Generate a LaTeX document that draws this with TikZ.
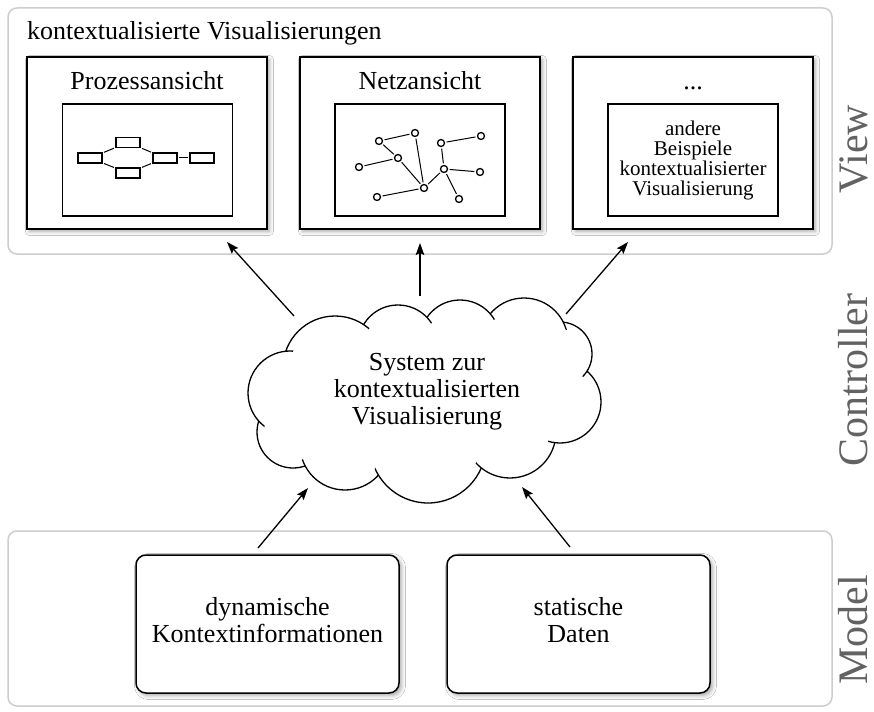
\documentclass[tikz,border=0pt]{standalone}
\usepackage{fontspec}
\setmainfont{Liberation Serif}
\usetikzlibrary{arrows.meta,shadows.blur}
\definecolor{panelgray}{HTML}{CDCDCD}
\definecolor{labelgray}{HTML}{626262}
\begin{document}
\begin{tikzpicture}[x=1pt,y=1pt,
  panel/.style={draw=panelgray, line width=1.5pt, rounded corners=9pt, fill=white, inner sep=0pt, outer sep=0pt, anchor=north west},
  viewbox/.style={draw=black, line width=1.5pt, fill=white, inner sep=0pt, outer sep=0pt, anchor=north west, minimum width=240pt, minimum height=172pt,
    blur shadow={shadow xshift=2.5pt, shadow yshift=-2.5pt, shadow opacity=35, shadow blur radius=4pt}},
  innerbox/.style={draw=black, line width=1.3pt, fill=white, inner sep=0pt, outer sep=0pt, minimum width=170pt, minimum height=112pt},
  modelbox/.style={draw=black, line width=1.5pt, fill=white, rounded corners=10pt, inner sep=0pt, outer sep=0pt, anchor=north west, minimum width=263pt, minimum height=138pt,
    blur shadow={shadow xshift=2.5pt, shadow yshift=-2.5pt, shadow opacity=35, shadow blur radius=4pt}},
  titletext/.style={font=\fontsize{26}{26}\selectfont, inner sep=0pt, anchor=base},
  bodytext/.style={font=\fontsize{26}{27}\selectfont, align=center, inner sep=0pt},
  smalltext/.style={font=\fontsize{21}{20}\selectfont, align=center, inner sep=0pt},
  sidelabel/.style={font=\fontsize{42}{42}\selectfont, text=labelgray, rotate=90, anchor=base, inner sep=0pt},
  procrect/.style={draw=black, line width=1.2pt, fill=white, inner sep=0pt, minimum width=24pt, minimum height=10pt},
  netnode/.style={circle, draw=black, line width=1.3pt, fill=white, inner sep=0pt, minimum size=7pt},
  link/.style={line width=1pt, shorten <=1.5pt, shorten >=1.5pt},
  flow/.style={line width=1.3pt, -{Stealth[length=12pt,width=8.5pt,inset=2pt]}},
  cloudline/.style={line width=1.3pt}
]
\useasboundingbox (0,0) rectangle (874,-711);

% panels
\node[panel, minimum width=824pt, minimum height=246pt] (viewpanel) at (8,-8) {};
\node[panel, minimum width=824pt, minimum height=175pt] (modelpanel) at (8,-531) {};
\node[font=\fontsize{26}{26}\selectfont, inner sep=0pt, anchor=base west] (heading) at (27,-40) {kontextualisierte Visualisierungen};

% side labels
\node[sidelabel] (lview) at (867,-149) {View};
\node[sidelabel] (lctrl) at (867,-380) {Controller};
\node[sidelabel] (lmodel) at (867,-630) {Model};

% view boxes
\node[viewbox] (vb1) at (27,-57) {};
\node[viewbox] (vb2) at (300,-57) {};
\node[viewbox] (vb3) at (573,-57) {};
\node[titletext] (t1) at (147,-90) {Prozessansicht};
\node[titletext] (t2) at (420,-90) {Netzansicht};
\node[titletext] (t3) at (693,-90) {...};
\node[innerbox] (ib1) at (147.5,-160) {};
\node[innerbox] (ib2) at (420,-160) {};
\node[innerbox, smalltext] (ib3) at (693,-160) {andere\\Beispiele\\kontextualisierter\\Visualisierung};

% process view
\node[procrect] (pl) at (90,-158) {};
\node[procrect] (pt) at (128,-142.5) {};
\node[procrect] (pb) at (128,-173) {};
\node[procrect] (pm) at (165,-158) {};
\node[procrect] (pr) at (202,-158) {};
\draw[link] (pl) -- (pt);
\draw[link] (pl) -- (pb);
\draw[link] (pt) -- (pm);
\draw[link] (pb) -- (pm);
\draw[link] (pm) -- (pr);

% network view
\node[netnode] (na) at (379,-141) {};
\node[netnode] (nb) at (415,-133) {};
\node[netnode] (nc) at (398,-158) {};
\node[netnode] (nd) at (359,-167) {};
\node[netnode] (ne) at (424,-188) {};
\node[netnode] (nf) at (377,-197) {};
\node[netnode] (ng) at (441,-143) {};
\node[netnode] (nh) at (481,-136) {};
\node[netnode] (ni) at (444,-169) {};
\node[netnode] (nj) at (480,-172) {};
\node[netnode] (nk) at (459,-199) {};
\foreach \u/\v in {na/nb, na/nc, nd/nc, nc/ne, nb/ne, nf/ne, ne/ni, ng/ni, ng/nh, ni/nj, ni/nk}
  \draw[link] (\u) -- (\v);

% cloud (puffs listed clockwise, drawn in reverse order)
\foreach \cx/\cy/\r in {293/432/36, 345/445/45, 428/445/58, 510/432/46, 560/402/41, 560/354/32, 524/342/44, 460/340/40, 398/345/40, 335/368/52, 290/393/42}{
  \fill[white] (\cx,-\cy) circle[radius=\r];
  \draw[cloudline] (\cx,-\cy) circle[radius=\r];
}
\fill[white] (290,-393) -- (335,-368) -- (398,-345) -- (460,-340) -- (524,-342) -- (560,-354) -- (560,-402) -- (510,-432) -- (428,-445) -- (345,-445) -- (293,-432) -- cycle;
\foreach \cx/\cy/\r in {293/432/36, 345/445/45, 428/445/58, 510/432/46, 560/402/41, 560/354/32, 524/342/44, 460/340/40, 398/345/40, 335/368/52, 290/393/42}{
  \fill[white] (\cx,-\cy) circle[radius=\r-7];
}
\node[bodytext] (cloud) at (427,-392) {System zur\\kontextualisierten\\Visualisierung};

% model boxes
\node[modelbox] (mb1) at (136,-555) {};
\node[modelbox] (mb2) at (447,-555) {};
\node[bodytext] (mt1) at (267.5,-620) {dynamische\\Kontextinformationen};
\node[bodytext] (mt2) at (578.5,-620) {statische\\Daten};

% arrows
\coordinate (a1s) at (294,-316); \coordinate (a1e) at (227,-242);
\coordinate (a2s) at (420,-296); \coordinate (a2e) at (420,-243);
\coordinate (a3s) at (566,-314); \coordinate (a3e) at (628,-242);
\coordinate (a4s) at (258,-548); \coordinate (a4e) at (308,-488);
\coordinate (a5s) at (570,-547); \coordinate (a5e) at (522,-487);
\draw[flow] (a1s) -- (a1e);
\draw[flow] (a2s) -- (a2e);
\draw[flow] (a3s) -- (a3e);
\draw[flow] (a4s) -- (a4e);
\draw[flow] (a5s) -- (a5e);
\end{tikzpicture}
\end{document}
